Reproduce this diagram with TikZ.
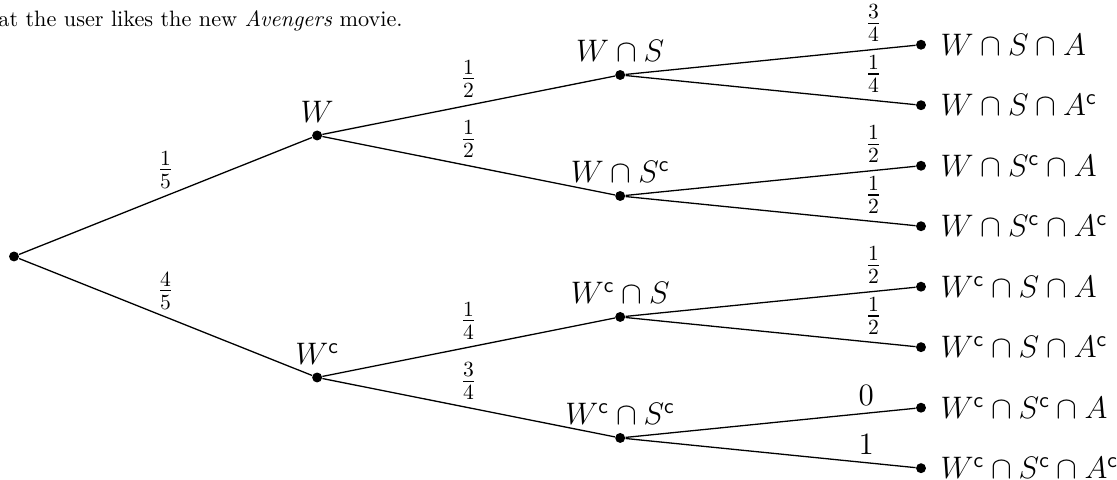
\documentclass[tikz,border=0pt]{standalone}
\usepackage{amsmath}
\newcommand{\cpl}{^{\mathsf{c}}}

\begin{document}
\begin{tikzpicture}[
    dot/.style = {circle, fill, inner sep=0pt, minimum size=4.6pt},
    leaf/.style = {dot, label={[label distance=3pt, font=\Large]right:#1}},
    inner/.style = {dot, label={[font=\Large]above:#1}},
    branch/.style = {draw, line width=0.6pt},
    prob/.style = {above, font=\Large}
]
    \useasboundingbox (-0.228, -3.637) rectangle (17.947, 4.173);

    % Text line cut off at the left edge
    \node [anchor=base east, inner sep=0pt, font=\fontsize{10.3pt}{12pt}\selectfont] (caption) at (6.33, 3.75) {at the user likes the new \emph{Avengers} movie.};

    % Nodes - root, first and second level
    \node [dot] (root) at (0, 0) {};
    \node [inner=$W$] (w) at (4.932, 1.969) {};
    \node [inner=$W\cpl$] (wc) at (4.932, -1.969) {};

    \node [inner=$W\cap S$] (ws) at (9.863, 2.953) {};
    \node [inner=$W\cap S\cpl$] (wsc) at (9.863, 0.984) {};
    \node [inner=$W\cpl\cap S$] (wcs) at (9.863, -0.984) {};
    \node [inner=$W\cpl\cap S\cpl$] (wcsc) at (9.863, -2.953) {};

    % Leaves
    \node [leaf=$W\cap S\cap A$] (wsa) at (14.758, 3.445) {};
    \node [leaf=$W\cap S\cap A\cpl$] (wsac) at (14.758, 2.461) {};
    \node [leaf=$W\cap S\cpl\cap A$] (wsca) at (14.758, 1.476) {};
    \node [leaf=$W\cap S\cpl\cap A\cpl$] (wscac) at (14.758, 0.492) {};
    \node [leaf=$W\cpl\cap S\cap A$] (wcsa) at (14.758, -0.492) {};
    \node [leaf=$W\cpl\cap S\cap A\cpl$] (wcsac) at (14.758, -1.476) {};
    \node [leaf=$W\cpl\cap S\cpl\cap A$] (wcsca) at (14.758, -2.461) {};
    \node [leaf=$W\cpl\cap S\cpl\cap A\cpl$] (wcscac) at (14.758, -3.445) {};

    % Edges
    \path [branch] (root) -- node [prob] {$\frac{1}{5}$} (w);
    \path [branch] (root) -- node [prob] {$\frac{4}{5}$} (wc);

    \path [branch] (w) -- node [prob] {$\frac{1}{2}$} (ws);
    \path [branch] (w) -- node [prob] {$\frac{1}{2}$} (wsc);
    \path [branch] (wc) -- node [prob] {$\frac{1}{4}$} (wcs);
    \path [branch] (wc) -- node [prob] {$\frac{3}{4}$} (wcsc);

    \path [branch] (ws) -- node [prob, pos=0.855] {$\frac{3}{4}$} (wsa);
    \path [branch] (ws) -- node [prob, pos=0.855] {$\frac{1}{4}$} (wsac);
    \path [branch] (wsc) -- node [prob, pos=0.855] {$\frac{1}{2}$} (wsca);
    \path [branch] (wsc) -- node [prob, pos=0.855] {$\frac{1}{2}$} (wscac);
    \path [branch] (wcs) -- node [prob, pos=0.855] {$\frac{1}{2}$} (wcsa);
    \path [branch] (wcs) -- node [prob, pos=0.855] {$\frac{1}{2}$} (wcsac);
    \path [branch] (wcsc) -- node [prob, pos=0.83] {$0$} (wcsca);
    \path [branch] (wcsc) -- node [prob, pos=0.83] {$1$} (wcscac);

\end{tikzpicture}
\end{document}
